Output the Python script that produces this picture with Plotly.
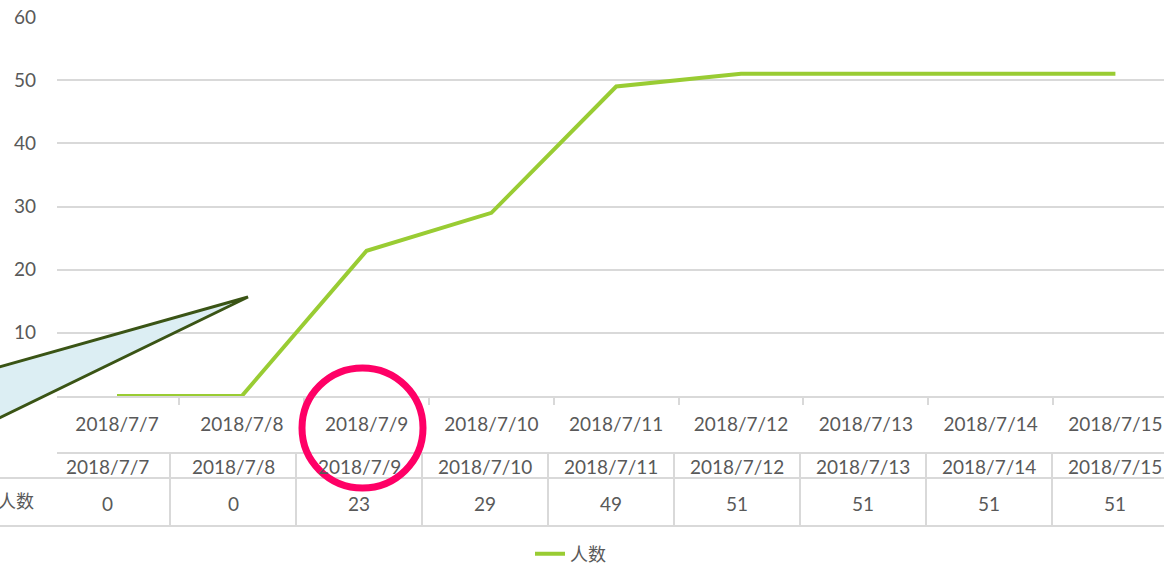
import plotly.graph_objects as go

categories = ["2018/7/7", "2018/7/8", "2018/7/9", "2018/7/10", "2018/7/11",
              "2018/7/12", "2018/7/13", "2018/7/14", "2018/7/15"]
values = [0, 0, 23, 29, 49, 51, 51, 51, 51]
series_name = "人数"
y_ticks = [0, 10, 20, 30, 40, 50, 60]

W, H = 1164, 565
L, T, B = 57, 17, 169
PW = W - L
PH = H - T - B

def px(xp):
    return (xp - L) / PW

def py(yp):
    return (H - B - yp) / PH

FONT = "Lato, 'Noto Sans CJK SC', sans-serif"
CJK = "'Noto Sans CJK SC', sans-serif"
GRAY = "#595959"
LINE = "#D9D9D9"
GREEN = "#99CC33"
FS = 19

idx = list(range(len(categories)))

fig = go.Figure()
fig.add_trace(go.Scatter(
    x=idx, y=values, mode="lines", name=series_name,
    line=dict(color=GREEN, width=4), xaxis="x", yaxis="y"))
fig.add_trace(go.Scatter(
    x=idx, y=values, mode="none", showlegend=False, hoverinfo="skip",
    xaxis="x2", yaxis="y"))

step1 = 124.8
r0 = -(117 - L) / step1
r1 = r0 + PW / step1
step2 = 126.0
q0 = -(107 - L) / step2
q1 = q0 + PW / step2

shapes = []
annotations = []

top_y, mid_y, bot_y = 453, 478, 526
n = len(categories)
for i in range(n + 1):
    shapes.append(dict(type="line", xref="x2", yref="paper",
                       x0=i - 0.5, x1=i - 0.5, y0=py(top_y), y1=py(bot_y),
                       line=dict(color=LINE, width=2), layer="above"))
shapes.append(dict(type="line", xref="x2", yref="paper", x0=-0.5, x1=n + 0.5,
                   y0=py(top_y), y1=py(top_y), line=dict(color=LINE, width=2)))
for yy in (mid_y, bot_y):
    shapes.append(dict(type="line", xref="paper", yref="paper", x0=px(-5), x1=px(W + 5),
                       y0=py(yy), y1=py(yy), line=dict(color=LINE, width=2)))

for i, (c, v) in enumerate(zip(categories, values)):
    annotations.append(dict(x=i, y=py(466), xref="x2", yref="paper", text=c,
                            yanchor="middle", showarrow=False,
                            font=dict(family=FONT, size=FS, color=GRAY)))
    annotations.append(dict(x=i, y=py(503), xref="x2", yref="paper", text=str(v),
                            yanchor="middle", showarrow=False,
                            font=dict(family=FONT, size=FS, color=GRAY)))
annotations.append(dict(x=px(36), y=py(500), xref="paper", yref="paper", text=series_name,
                        xanchor="right", yanchor="middle", showarrow=False,
                        font=dict(family=CJK, size=18, color=GRAY)))

tri = "M {},{} L {},{} L {},{} L {},{} Z".format(
    px(248), py(297), px(-40), py(378), px(-40), py(437), px(248), py(297))
shapes.append(dict(type="path", xref="paper", yref="paper", path=tri,
                   fillcolor="#DCEEF3", line=dict(color="#3A5415", width=3), layer="above"))
shapes.append(dict(type="circle", xref="paper", yref="paper",
                   x0=px(302), x1=px(423), y0=py(368), y1=py(488),
                   line=dict(color="#FF0066", width=7), layer="above"))

fig.update_layout(
    width=W, height=H,
    margin=dict(l=L, r=0, t=T, b=B, autoexpand=False),
    plot_bgcolor="white", paper_bgcolor="white",
    font=dict(family=FONT, color=GRAY, size=FS),
    showlegend=True,
    legend=dict(orientation="h", x=px(530), xanchor="left", y=py(554), yanchor="middle",
                font=dict(family=CJK, size=18, color=GRAY),
                bgcolor="rgba(0,0,0,0)"),
    xaxis=dict(range=[r0, r1], tickmode="array", tickvals=idx, ticktext=categories,
               showgrid=False, zeroline=False, showline=True, linecolor=LINE, linewidth=2,
               ticks="", ticklabelstandoff=10,
               tickfont=dict(family=FONT, size=FS, color=GRAY),
               minor=dict(tickmode="linear", tick0=-0.5, dtick=1, ticks="outside",
                          ticklen=7, tickcolor=LINE, tickwidth=2, showgrid=False)),
    xaxis2=dict(range=[q0, q1], overlaying="x", anchor="y", visible=False),
    yaxis=dict(range=[0, 60], tickvals=y_ticks, showgrid=True, gridcolor=LINE, gridwidth=1.5,
               zeroline=False, showline=False, ticks="", ticklabelstandoff=20,
               tickfont=dict(family=FONT, size=FS, color=GRAY)),
    shapes=shapes, annotations=annotations,
)
fig.write_html("out.html", config={"displayModeBar": False},
               post_script="document.body.style.margin='0';document.body.style.overflow='hidden';")
